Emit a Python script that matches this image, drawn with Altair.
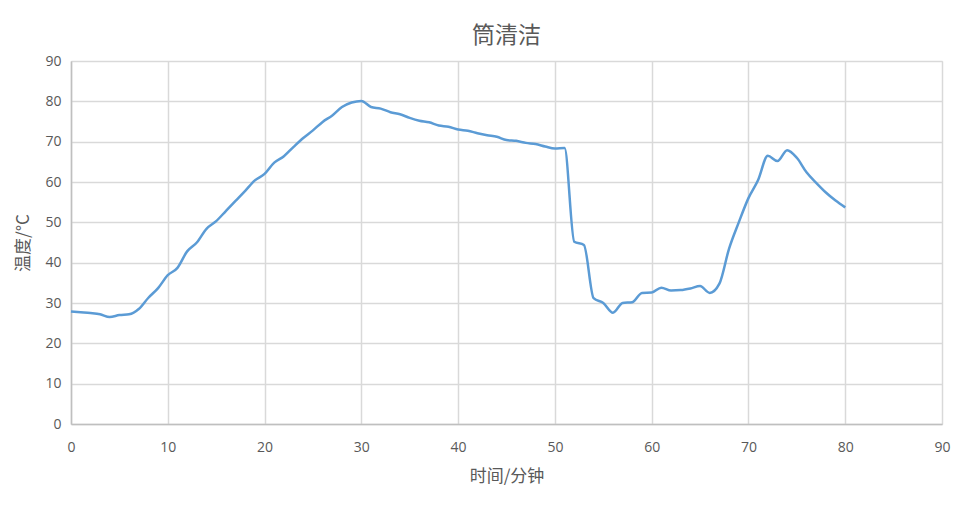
import altair as alt
import pandas as pd

minutes = [0, 1, 2, 3, 4, 5, 6, 7, 8, 9, 10, 11, 12, 13, 14, 15, 16, 17, 18, 19,
           20, 21, 22, 23, 24, 25, 26, 27, 28, 29, 30, 31, 32, 33, 34, 35, 36, 37, 38, 39,
           40, 41, 42, 43, 44, 45, 46, 47, 48, 49, 50, 51, 52, 53, 54, 55, 56, 57, 58, 59,
           60, 61, 62, 63, 64, 65, 66, 67, 68, 69, 70, 71, 72, 73, 74, 75, 76, 77, 78, 79, 80]
temps = [27.9, 27.7, 27.5, 27.2, 26.5, 27.0, 27.2, 28.5, 31.3, 33.7, 36.9, 38.7, 42.8, 45.0, 48.4, 50.3, 52.8, 55.3, 57.8, 60.4,
         62.0, 64.8, 66.4, 68.7, 70.9, 72.8, 74.9, 76.5, 78.6, 79.7, 80.1, 78.6, 78.2, 77.3, 76.8, 75.9, 75.2, 74.8, 74.0, 73.7,
         73.0, 72.7, 72.1, 71.6, 71.2, 70.4, 70.2, 69.7, 69.4, 68.8, 68.3, 68.4, 45.2, 44.4, 31.2, 30.0, 27.6, 30.0, 30.2, 32.5,
         32.6, 33.8, 33.1, 33.2, 33.6, 34.2, 32.5, 34.8, 43.5, 50.0, 56.0, 60.5, 66.5, 65.2, 67.9, 66.0, 62.4, 59.8, 57.4, 55.4, 53.7]

df = pd.DataFrame({"t": minutes, "v": temps})

FONT = "Noto Sans CJK SC"
LFONT = "Open Sans"
GREY = "#595959"

common = dict(grid=True, gridColor="#d9d9d9", gridWidth=1.5,
              domain=True, domainColor="#bfbfbf", domainWidth=1.5, ticks=False,
              labelFontSize=14, titleFontSize=17, titleFontWeight="normal",
              labelColor=GREY, titleColor=GREY, labelFont=LFONT, titleFont=FONT,
              labelFlush=False)

chart = alt.Chart(df).mark_line(
    color="#5B9BD5", strokeWidth=2.5, interpolate="monotone"
).encode(
    x=alt.X("t:Q", scale=alt.Scale(domain=[0, 90], nice=False),
            axis=alt.Axis(values=list(range(0, 91, 10)), title="时间/分钟",
                          labelPadding=16, titlePadding=14, **common)),
    y=alt.Y("v:Q", scale=alt.Scale(domain=[0, 90], nice=False),
            axis=alt.Axis(values=list(range(0, 91, 10)), title="温度/°C",
                          labelPadding=10, titlePadding=12, **common)),
).properties(
    width=871, height=363,
    title=alt.TitleParams("筒清洁", font=FONT, fontSize=23, fontWeight="normal",
                          color=GREY, offset=6),
    autosize=alt.AutoSizeParams(type="none"),
    padding={"left": 63, "top": 53, "right": 10, "bottom": 70},
).configure_view(stroke=None).configure(background="white")

chart.save("out.html", embed_options={"renderer": "svg", "actions": False})
